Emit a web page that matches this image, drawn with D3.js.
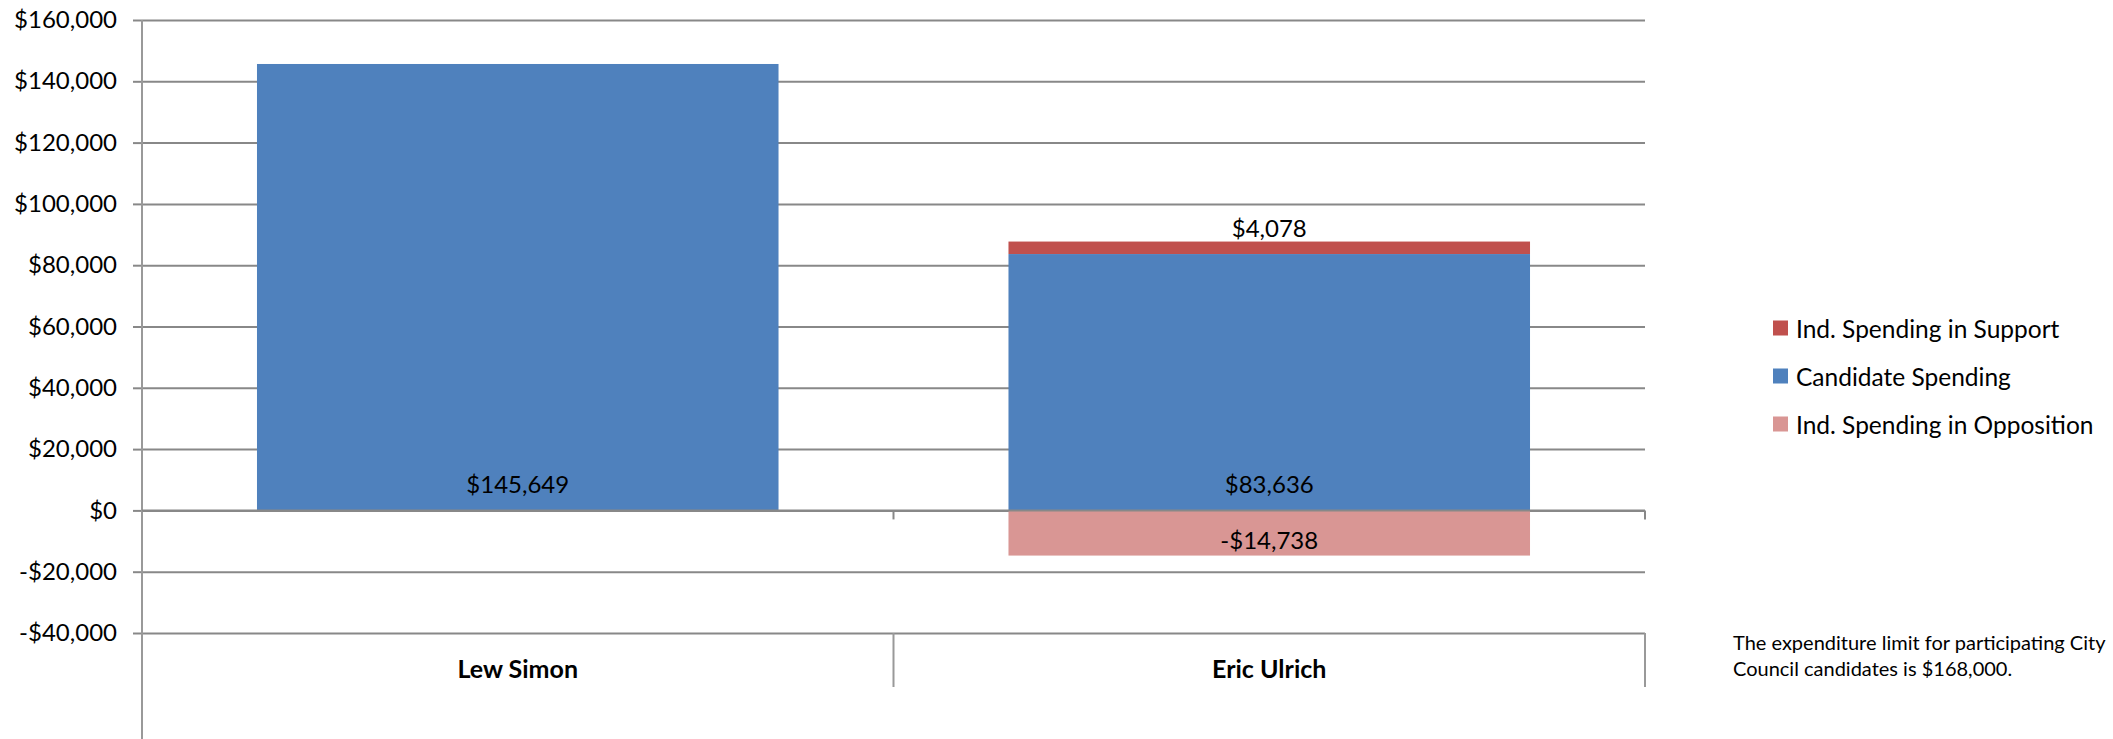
<!DOCTYPE html>
<html>
<head>
<meta charset="utf-8">
<script src="https://cdn.jsdelivr.net/npm/d3@7"></script>
<style>
  html, body { margin: 0; padding: 0; background: #fff; }
  svg { display: block; }
  text { font-family: Lato, "Noto Sans", sans-serif; fill: #000; }
</style>
</head>
<body>
<svg id="chart" width="2113" height="739"></svg>
<script>
const candidates = ["Lew Simon", "Eric Ulrich"];
const candidateSpending = [145649, 83636];
const supportSpending = [0, 4078];
const oppositionSpending = [0, -14738];
const yTicks = [-40000, -20000, 0, 20000, 40000, 60000, 80000, 100000, 120000, 140000, 160000];
const seriesNames = ["Ind. Spending in Support", "Candidate Spending", "Ind. Spending in Opposition"];
const seriesColors = ["#C0504D", "#4F81BD", "#D99694"];
const noteLines = ["The expenditure limit for participating City", "Council candidates is $168,000."];

(function () {
const svg = d3.select("#chart");
const W = 2113, H = 739;
const pLeft = 142, pRight = 1645, pTop = 20, pBottom = 633;
const gridColor = "#888888";

const locale = d3.formatLocale({decimal: ".", thousands: ",", grouping: [3], currency: ["$", ""], minus: "-"});
const fmt = locale.format("$,");

const y = d3.scaleLinear().domain([-40000, 160000]).range([pBottom, pTop]);
const x = d3.scaleBand().domain(candidates).range([pLeft, pRight]).padding(0);
const barFrac = 0.694;
const bw = x.bandwidth() * barFrac;
const bx = d => x(d) + (x.bandwidth() - bw) / 2;

// gridlines
const grid = svg.append("g").attr("transform", `translate(${pLeft},0)`)
  .call(d3.axisLeft(y).tickValues(yTicks).tickSize(-(pRight - pLeft)).tickFormat(""));
grid.select(".domain").remove();
grid.selectAll("line").attr("stroke", gridColor).attr("stroke-width", 2);

// y axis with labels
const yAxis = svg.append("g").attr("transform", `translate(${pLeft},0)`)
  .call(d3.axisLeft(y).tickValues(yTicks).tickSize(9).tickPadding(16).tickFormat(fmt));
yAxis.select(".domain").remove();
yAxis.selectAll("line").attr("stroke", gridColor).attr("stroke-width", 2);
yAxis.selectAll("text").style("font-size", "24px").style("font-family", "Lato, sans-serif").attr("fill", "#000");

// stacked data
const rows = candidates.map((c, i) => ({
  c,
  segs: [
    {key: 0, y0: candidateSpending[i], y1: candidateSpending[i] + supportSpending[i], v: supportSpending[i]},
    {key: 1, y0: 0, y1: candidateSpending[i], v: candidateSpending[i]},
    {key: 2, y0: 0, y1: oppositionSpending[i], v: oppositionSpending[i]}
  ]
}));

const bars = svg.append("g");
rows.forEach(r => {
  r.segs.filter(s => s.v !== 0).forEach(s => {
    bars.append("rect")
      .attr("x", bx(r.c))
      .attr("width", bw)
      .attr("y", y(Math.max(s.y0, s.y1)))
      .attr("height", Math.abs(y(s.y0) - y(s.y1)))
      .attr("fill", seriesColors[s.key]);
  });
});

// y axis vertical line
svg.append("line").attr("x1", pLeft).attr("x2", pLeft).attr("y1", pTop).attr("y2", H)
  .attr("stroke", "#999").attr("stroke-width", 2);

// zero line ticks
const sepX = [x(candidates[1]), pRight];
svg.append("g").selectAll("line").data(sepX).join("line")
  .attr("x1", d => d).attr("x2", d => d)
  .attr("y1", y(0)).attr("y2", y(0) + 9)
  .attr("stroke", gridColor).attr("stroke-width", 2);
svg.append("line").attr("x1", pLeft).attr("x2", pRight).attr("y1", y(0)).attr("y2", y(0))
  .attr("stroke", gridColor).attr("stroke-width", 2);

// category separators at bottom
svg.append("g").selectAll("line").data(sepX).join("line")
  .attr("x1", d => d).attr("x2", d => d)
  .attr("y1", pBottom).attr("y2", pBottom + 54)
  .attr("stroke", "#999").attr("stroke-width", 2);

// category labels
svg.append("g").selectAll("text").data(candidates).join("text")
  .attr("x", d => x(d) + x.bandwidth() / 2)
  .attr("y", 668)
  .attr("text-anchor", "middle")
  .attr("dominant-baseline", "central")
  .style("font-size", "25px").style("font-weight", "bold")
  .text(d => d);

// data labels
const labels = svg.append("g").style("font-size", "24px");
rows.forEach(r => {
  const cx = bx(r.c) + bw / 2;
  r.segs.filter(s => s.v !== 0).forEach(s => {
    let ly;
    if (s.key === 1) ly = y(0) - 27;
    else if (s.key === 0) ly = y(s.y1) - 14;
    else ly = (y(s.y0) + y(s.y1)) / 2 + 7;
    labels.append("text").attr("x", cx).attr("y", ly)
      .attr("text-anchor", "middle").attr("dominant-baseline", "central")
      .text(fmt(s.v));
  });
});

// legend
const leg = svg.append("g").attr("transform", "translate(1773,0)");
const legY = [328, 376, 424];
seriesNames.forEach((n, i) => {
  leg.append("rect").attr("x", 0).attr("y", legY[i] - 7.5).attr("width", 15).attr("height", 15).attr("fill", seriesColors[i]);
  leg.append("text").attr("x", 23).attr("y", legY[i]).attr("dominant-baseline", "central")
    .style("font-size", "24.5px").text(n);
});

// note
svg.append("g").selectAll("text").data(noteLines).join("text")
  .attr("x", 1733).attr("y", (d, i) => 642 + i * 26)
  .attr("dominant-baseline", "central")
  .style("font-size", "20px").text(d => d);
})();
</script>
</body>
</html>
